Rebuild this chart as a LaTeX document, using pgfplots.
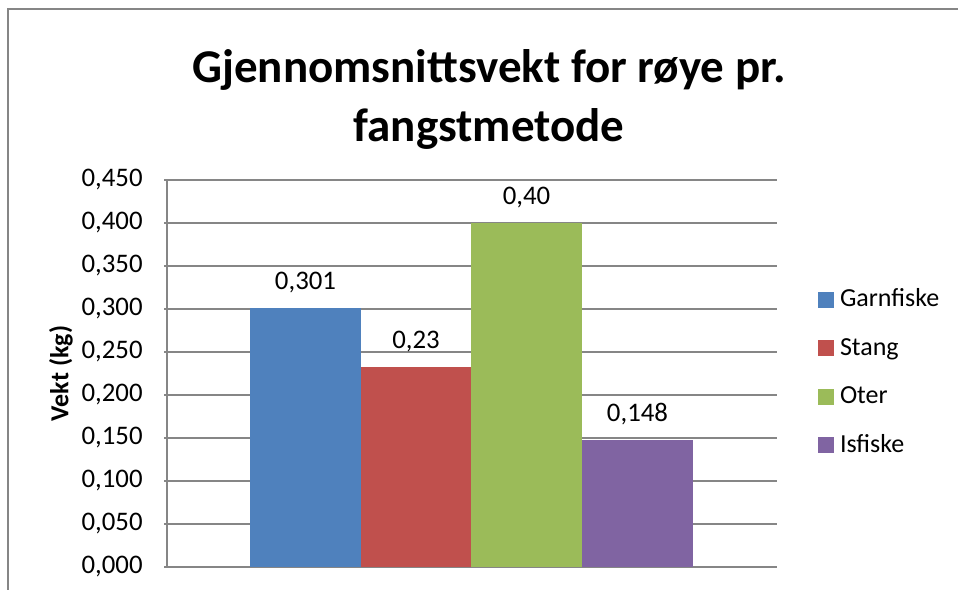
\documentclass[border=0pt]{standalone}
\usepackage{fontspec}
\setmainfont{Carlito}
\usepackage{pgfplots}
\pgfplotsset{compat=1.18}
\definecolor{cBlue}{RGB}{79,129,189}
\definecolor{cRed}{RGB}{192,80,77}
\definecolor{cGreen}{RGB}{155,187,89}
\definecolor{cPurple}{RGB}{128,100,162}
\definecolor{gridGray}{RGB}{134,134,134}
\begin{document}
\begin{tikzpicture}
\path[use as bounding box] (0,0) rectangle (479pt,294.5pt);
\draw[line width=1.25pt, color=gridGray] (4pt,-2pt) -- (4pt,290pt) -- (481pt,290pt);
\node[anchor=base, font=\fontsize{23.5}{28}\selectfont\bfseries] at (244.5pt,253pt) {Gjennomsnittsvekt for røye pr.};
\node[anchor=base, font=\fontsize{23.5}{28}\selectfont\bfseries] at (244.5pt,223.5pt) {fangstmetode};
\begin{axis}[
  at={(83.5pt,11pt)}, anchor=south west,
  width=305pt, height=193.5pt, scale only axis,
  xmin=0, xmax=610, ymin=0, ymax=0.45,
  ybar, bar shift=0pt, bar width=110.5,
  axis y line*=left, axis x line*=bottom,
  axis line style={draw=gridGray, line width=1pt, -},
  xtick=\empty,
  ytick={0,0.05,0.1,0.15,0.2,0.25,0.3,0.35,0.4,0.45},
  tick align=outside, major tick length=1.5pt,
  ytick style={draw=gridGray, line width=1pt},
  ymajorgrids, grid style={draw=gridGray, line width=1pt},
  yticklabel style={font=\fontsize{13.4}{16}\selectfont, anchor=east, inner sep=0pt, xshift=-10.5pt,
    /pgf/number format/.cd, fixed, fixed zerofill, precision=3, use comma, assume math mode=true},
  scaled y ticks=false,
  ylabel={Vekt (kg)},
  ylabel style={at={(axis description cs:-0.1738,0.5)}, anchor=center, font=\fontsize{13}{15}\selectfont\bfseries},
  nodes near coords, point meta=explicit symbolic,
  every node near coord/.append style={anchor=base, yshift=9.25pt, font=\fontsize{13.4}{16}\selectfont, inner sep=0pt, text=black},
  legend cell align=left,
  legend image code/.code={\fill[#1,draw=none] (0pt,-3.5pt) rectangle (8pt,4.5pt);},
  legend style={at={(axis description cs:1,0.5)}, anchor=west, xshift=20.5pt, draw=none, fill=none,
    inner sep=0pt, outer sep=0pt, row sep=12.25pt, column sep=3pt,
    font=\fontsize{13}{15.6}\selectfont,
    nodes={inner sep=0pt, text height=9pt, text depth=3pt}},
]
\addplot[fill=cBlue, draw=none] coordinates {(138.5,0.301) [0,301]};
\addplot[fill=cRed, draw=none] coordinates {(249,0.232) [0,23]};
\addplot[fill=cGreen, draw=none] coordinates {(359.5,0.400) [0,40]};
\addplot[fill=cPurple, draw=none] coordinates {(470.5,0.148) [0,148]};
\legend{Garnfiske, Stang, Oter, Isfiske}
\end{axis}
\end{tikzpicture}
\end{document}
